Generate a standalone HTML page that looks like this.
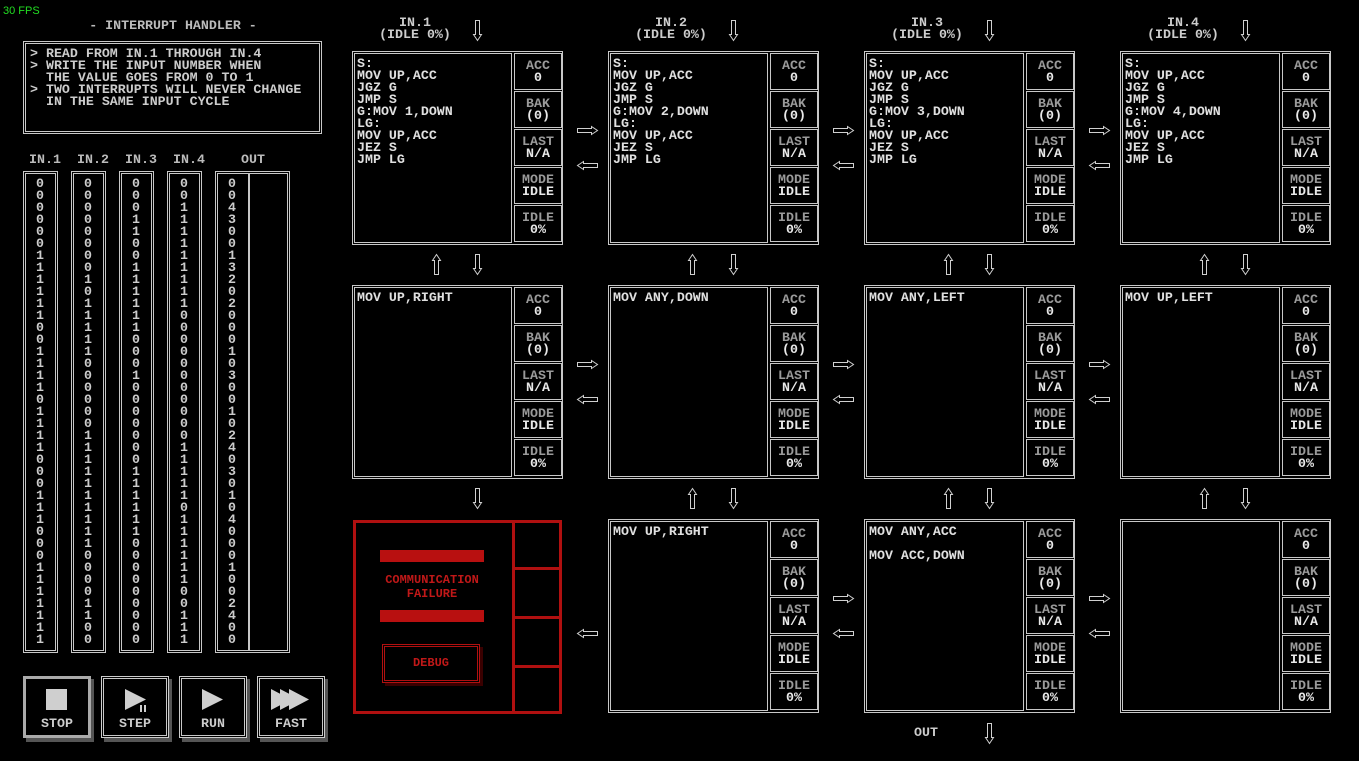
<!DOCTYPE html>
<html><head><meta charset="utf-8"><style>
*{margin:0;padding:0;box-sizing:border-box}
body{width:1359px;height:761px;background:#000;position:relative;overflow:hidden;font-family:"Liberation Mono","DejaVu Sans Mono",monospace;font-weight:bold;font-size:13.3px;color:#d8d8d8}
.a{position:absolute;white-space:pre;line-height:12px}
.b{position:absolute;border:1px solid #c8c8c8}
.c{text-align:center}
</style></head><body>
<div class="a" style="left:3px;top:5px;color:#22dd22;font-family:'Liberation Sans',sans-serif;font-weight:normal;font-size:11px">30 FPS</div>
<div class="a c" style="left:24px;width:298px;top:20px;color:#bbb">- INTERRUPT HANDLER -</div>
<div class="b" style="left:23px;top:41px;width:299px;height:93px"></div>
<div class="b" style="left:25px;top:43px;width:295px;height:89px"></div>
<div class="a" style="left:30px;top:48px;color:#ccc">&gt; READ FROM IN.1 THROUGH IN.4
&gt; WRITE THE INPUT NUMBER WHEN
  THE VALUE GOES FROM 0 TO 1
&gt; TWO INTERRUPTS WILL NEVER CHANGE
  IN THE SAME INPUT CYCLE</div>
<div id="root"></div>
<svg id="sv" width="1359" height="761" style="position:absolute;left:0;top:0" fill="none" stroke="#d0d0d0" stroke-width="1"></svg>
<script>
var R=document.getElementById('root'),h='';
function box(x,y,w,hh,col){h+='<div class="b" style="left:'+x+'px;top:'+y+'px;width:'+w+'px;height:'+hh+'px'+(col?';border-color:'+col:'')+'"></div>';}
function txt(x,y,s,st){h+='<div class="a" style="left:'+x+'px;top:'+y+'px;'+(st||'')+'">'+s+'</div>';}
var cols=[
"0000001111110011110"+"11110001110001111111",
"0000000010111110000"+"00111111111100001100",
"0001100111111000100"+"00000111111000000000",
"0011111111100000000"+"00011111011111100111",
"0043001320200010300"+"10240301040001002400"];
var cx=[23,71,119,167,215],hd=['IN.1','IN.2','IN.3','IN.4','OUT'];
for(var i=0;i<5;i++){var w=i==4?75:35;box(cx[i],171,w,482);box(cx[i]+2,173,w-4,478);
txt(cx[i]+(i==4?26:6),154,hd[i],'color:#bbb');
txt(cx[i]+13,178,cols[i].split('').join('\n'),'color:#ccc');}
box(248,173,1,478);
var bn=[['STOP',23],['STEP',101],['RUN',179],['FAST',257]];
bn.forEach(function(b,k){var x=b[1];h+='<div style="position:absolute;left:'+(x+3)+'px;top:679px;width:68px;height:63px;background:#555"></div>';
h+='<div style="position:absolute;left:'+x+'px;top:676px;width:68px;height:62px;background:#000;border:'+(k==0?'3px solid #aaa':'1px solid #ccc')+'"></div>';
if(k>0)box(x+2,678,64,58);
txt(x,718,b[0],'width:68px;text-align:center;color:#ccc');});
h+='<svg width="1359" height="761" style="position:absolute;left:0;top:0" fill="#cfcfcf"><rect x="46" y="689" width="21" height="21"/><polygon points="125,689 146,699.5 125,710"/><rect x="140" y="705" width="2" height="7"/><rect x="144" y="705" width="2" height="7"/><polygon points="202,689 223,699.5 202,710"/><polygon points="271,689 291,699.5 271,710"/><polygon points="280,689 300,699.5 280,710"/><polygon points="289,689 309,699.5 289,710"/></svg>';
h+='<div style="position:absolute;left:353px;top:520px;width:209px;height:194px;border:3px solid #b01010"></div>';
h+='<div style="position:absolute;left:512px;top:520px;width:3px;height:194px;background:#b01010"></div>';
[567,616,665].forEach(function(y){h+='<div style="position:absolute;left:512px;top:'+y+'px;width:50px;height:3px;background:#b01010"></div>';});
h+='<div style="position:absolute;left:380px;top:550px;width:104px;height:12px;background:#b81010"></div>';
h+='<div style="position:absolute;left:380px;top:610px;width:104px;height:12px;background:#b81010"></div>';
txt(352,574,'COMMUNICATION','width:160px;text-align:center;color:#c01818;font-size:12px');
txt(352,588,'FAILURE','width:160px;text-align:center;color:#c01818;font-size:12px');
h+='<div style="position:absolute;left:385px;top:647px;width:98px;height:39px;background:#3a0000"></div>';
h+='<div style="position:absolute;left:382px;top:644px;width:98px;height:39px;background:#000"></div>';
box(382,644,98,39,'#b01010');box(384,646,94,35,'#b01010');
txt(382,657,'DEBUG','width:98px;text-align:center;color:#c01818;font-size:12px');
var NX=[353,609,865,1121],NY=[52,286,520];
var code=[
["S:\nMOV UP,ACC\nJGZ G\nJMP S\nG:MOV 1,DOWN\nLG:\nMOV UP,ACC\nJEZ S\nJMP LG","S:\nMOV UP,ACC\nJGZ G\nJMP S\nG:MOV 2,DOWN\nLG:\nMOV UP,ACC\nJEZ S\nJMP LG","S:\nMOV UP,ACC\nJGZ G\nJMP S\nG:MOV 3,DOWN\nLG:\nMOV UP,ACC\nJEZ S\nJMP LG","S:\nMOV UP,ACC\nJGZ G\nJMP S\nG:MOV 4,DOWN\nLG:\nMOV UP,ACC\nJEZ S\nJMP LG"],
["MOV UP,RIGHT","MOV ANY,DOWN","MOV ANY,LEFT","MOV UP,LEFT"],
[null,"MOV UP,RIGHT","MOV ANY,ACC\n\nMOV ACC,DOWN",""]];
var sl=[['ACC','0'],['BAK','(0)'],['LAST','N/A'],['MODE','IDLE'],['IDLE','0%']];
for(var r=0;r<3;r++)for(var c=0;c<4;c++){if(code[r][c]===null)continue;var x=NX[c],y=NY[r];
box(x-1,y-1,211,194);box(x+1,y+1,158,190);
txt(x+4,y+6,code[r][c],'color:#e0e0e0');
for(var s=0;s<5;s++){var yy=y+1+s*38;box(x+161,yy,48,37);
txt(x+161,yy+7,sl[s][0]+'\n'+'<span style="color:#e8e8e8">'+sl[s][1]+'</span>','width:48px;text-align:center;color:#9a9a9a');}}
for(var c=0;c<4;c++){txt(NX[c]+22,17,'IN.'+(c+1)+'\n(IDLE 0%)','width:80px;text-align:center;color:#ccc');}
txt(914,727,'OUT','color:#ccc');
R.innerHTML=h;
var p='';
function ar(cx,cy,d){var pts;
if(d=='r')pts=[[-10,-2],[4,-2],[4,-4],[10,0],[4,4],[4,2],[-10,2]];
if(d=='l')pts=[[10,-2],[-4,-2],[-4,-4],[-10,0],[-4,4],[-4,2],[10,2]];
if(d=='d')pts=[[-2,-10],[-2,4],[-4,4],[0,10],[4,4],[2,4],[2,-10]];
if(d=='u')pts=[[-2,10],[-2,-4],[-4,-4],[0,-10],[4,-4],[2,-4],[2,10]];
p+='<polygon points="'+pts.map(function(q){return (cx+q[0]+.5)+','+(cy+q[1]+.5)}).join(' ')+'"/>';}
var HX=[587,843,1099];
[[130,165],[364,399],[598,633]].forEach(function(yy,r){HX.forEach(function(x,i){if(!(r==2&&i==0))ar(x,yy[0],'r');ar(x,yy[1],'l');});});
[0,1,2,3].forEach(function(c){var ux=NX[c]+83,dx=NX[c]+124;ar(dx,30,'d');
ar(ux,264,'u');ar(dx,264,'d');if(c>0)ar(ux,498,'u');ar(dx,498,'d');});
ar(989,733,'d');
document.getElementById('sv').innerHTML=p;
</script>
</body></html>
